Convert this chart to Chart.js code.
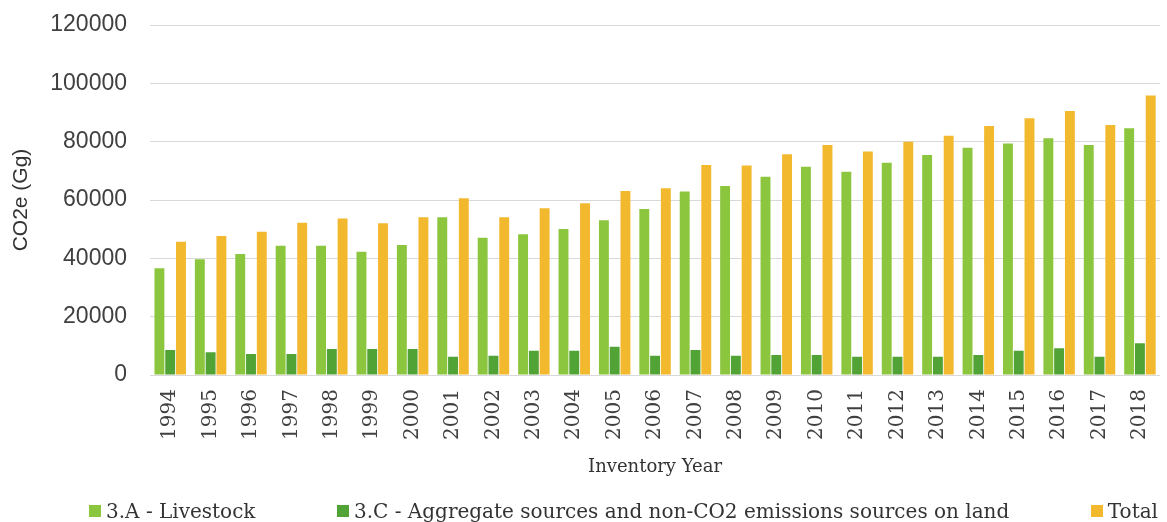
<!DOCTYPE html>
<html>
<head>
<meta charset="utf-8">
<script src="https://cdn.jsdelivr.net/npm/chart.js@4/dist/chart.umd.min.js"></script>
<style>
  body { margin: 0; background: #fff; }
  #wrap { position: relative; width: 1167px; height: 522px; }
  #legend {
    position: absolute; left: 0; top: 500px; width: 1167px; box-sizing: border-box;
    padding: 0 9px 0 89px; display: flex; justify-content: space-between;
    font-family: "DejaVu Serif"; font-size: 20px; line-height: 22px; color: #333;
  }
  .item { display: flex; align-items: center; white-space: nowrap; }
  .swatch { width: 12px; height: 12px; margin-right: 5px; }
</style>
</head>
<body>
<div id="wrap">
  <canvas id="emissionsChart" width="1167" height="522"></canvas>
  <div id="legend"></div>
</div>
<script>
const years = [
  "1994", "1995", "1996", "1997", "1998", "1999", "2000", "2001", "2002",
  "2003", "2004", "2005", "2006", "2007", "2008", "2009", "2010", "2011",
  "2012", "2013", "2014", "2015", "2016", "2017", "2018",
];
const livestock = [
  36600, 39700, 41500, 44300, 44300, 42300, 44600, 54100, 47100,
  48300, 50100, 53100, 56900, 62900, 64800, 68000, 71400, 69700,
  72800, 75400, 77900, 79400, 81200, 78900, 84600,
];
const aggregateSources = [
  8600, 7800, 7200, 7200, 8900, 8900, 8900, 6300, 6600,
  8300, 8300, 9700, 6600, 8600, 6600, 6900, 6900, 6300,
  6300, 6300, 6900, 8300, 9200, 6300, 10900,
];
const total = [
  45700, 47700, 49100, 52200, 53700, 52000, 54100, 60600, 54100,
  57200, 58900, 63100, 64000, 72000, 71800, 75700, 78900, 76600,
  80000, 82000, 85400, 88000, 90500, 85700, 95800,
];
const yTicks = [0, 20000, 40000, 60000, 80000, 100000, 120000];

const seriesLabels = [
  "3.A - Livestock",
  "3.C - Aggregate sources and non-CO2 emissions sources on land",
  "Total",
];
const seriesColors = ["#8cc63f", "#52a336", "#f2b92e"];

const textColor = "#404040";

function createChart() {
  const ctx = document.getElementById("emissionsChart").getContext("2d");
  return new Chart(ctx, {
    type: "bar",
    data: {
      labels: years,
      datasets: [livestock, aggregateSources, total].map((values, i) => ({
        label: seriesLabels[i],
        data: values,
        backgroundColor: seriesColors[i],
        categoryPercentage: 0.8,
        barPercentage: 0.92,
      })),
    },
    options: {
      responsive: false,
      animation: false,
      layout: {
        padding: { top: 25, right: 3, bottom: 32, left: 0 },
      },
      plugins: {
        legend: { display: false },
        tooltip: { enabled: false },
      },
      scales: {
        x: {
          // invisible tick marks give the gap below the axis
          grid: {
            drawOnChartArea: false,
            drawTicks: true,
            tickLength: 11,
            tickColor: "rgba(0,0,0,0)",
          },
          border: { display: false },
          ticks: {
            color: textColor,
            minRotation: 90,
            maxRotation: 90,
            padding: 3,
            font: { family: "DejaVu Serif", size: 20 },
          },
          title: {
            display: true,
            text: "Inventory Year",
            color: "#333",
            font: { family: "DejaVu Serif", size: 18 },
            padding: { top: 0, bottom: 12 },
          },
          afterFit: (scale) => {
            scale.height = 115;
          },
        },
        y: {
          min: yTicks[0],
          max: yTicks[yTicks.length - 1],
          afterBuildTicks: (scale) => {
            scale.ticks = yTicks.map((v) => ({ value: v }));
          },
          grid: {
            color: "#d9d9d9",
            drawTicks: true,
            tickLength: 20,
            tickColor: "rgba(0,0,0,0)",
          },
          border: { display: false },
          ticks: {
            color: textColor,
            padding: 3,
            font: { family: "Liberation Sans", size: 23 },
            callback: (value) => String(value),
          },
          title: {
            display: true,
            text: "CO2e (Gg)",
            color: "#333",
            font: { family: "Liberation Sans", size: 21 },
            padding: { top: 9, bottom: 0 },
          },
          afterFit: (scale) => {
            scale.width = 150;
          },
        },
      },
    },
  });
}

function buildLegend(chart) {
  const legend = document.getElementById("legend");
  legend.innerHTML = chart.data.datasets
    .map(
      (ds) =>
        `<div class="item"><span class="swatch" style="background:${ds.backgroundColor}"></span>${ds.label}</div>`
    )
    .join("");
}

const chart = createChart();
buildLegend(chart);
</script>
</body>
</html>
